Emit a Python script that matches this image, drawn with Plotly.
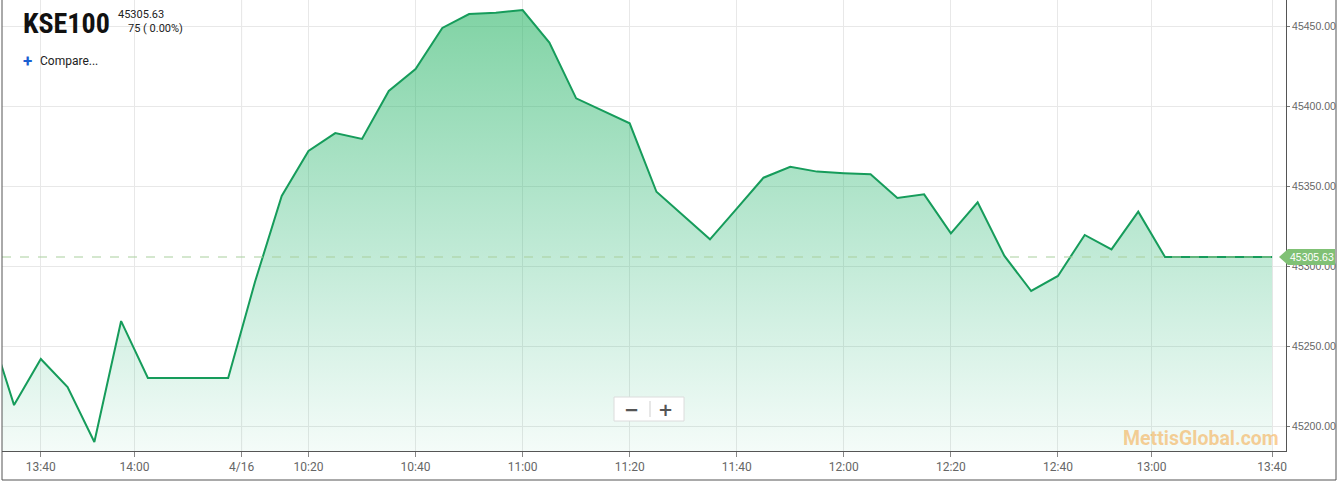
import plotly.graph_objects as go

# ---- data (ordinal time axis: one slot per sample) ----
times = ["13:30", "13:35", "13:40", "13:45", "13:50", "13:55", "14:05", "14:10", "14:15", "14:20",
         "10:10", "10:15", "10:20", "10:25", "10:30", "10:35", "10:40", "10:45", "10:50", "10:55",
         "11:00", "11:05", "11:10", "11:15", "11:20", "11:25", "11:30", "11:35", "11:40", "11:45",
         "11:50", "11:55", "12:00", "12:05", "12:10", "12:15", "12:20", "12:25", "12:30", "12:35",
         "12:40", "12:45", "12:50", "12:55", "13:20", "13:25", "13:30", "13:35", "13:40"]
values = [45266.0, 45213.1, 45241.9, 45224.4, 45190.0, 45265.6, 45230.0, 45230.0, 45230.0, 45230.0,
          45290.0, 45343.8, 45371.9, 45383.1, 45379.4, 45409.4, 45423.1, 45448.8, 45457.5, 45458.3,
          45460.0, 45439.6, 45404.8, 45397.0, 45389.2, 45346.4, 45331.6, 45316.7, 45335.9, 45355.2,
          45362.0, 45359.0, 45358.0, 45357.3, 45342.5, 45344.8, 45320.4, 45339.8, 45306.3, 45284.4,
          45293.8, 45319.4, 45310.4, 45334.0, 45305.63, 45305.63, 45305.63, 45305.63, 45305.63]
tick_labels = ["13:40", "14:00", "4/16", "10:20", "10:40", "11:00", "11:20", "11:40",
               "12:00", "12:20", "12:40", "13:00", "13:40"]
tick_slots = [2, 5.5, 9.5, 12, 16, 20, 24, 28, 32, 36, 40, 43.5, 48]
y_ticks = [45200, 45250, 45300, 45350, 45400, 45450]
last_price = 45305.63
change_text = "75 ( 0.00%)"
symbol = "KSE100"

# ---- geometry ----
W, H = 1337, 481
L, R, T, B = 2, 51, 0, 30
PW, PH = W - L - R, H - T - B
X_RANGE = [0.55, 48.52]
Y_RANGE = [45184.4, 45466.25]

def px(x):  # pixel -> paper x
    return (x - L) / PW

def py(y):  # pixel -> paper y
    return (T + PH - y) / PH

xs = list(range(len(times)))

fig = go.Figure()
fig.add_trace(go.Scatter(x=xs, y=[Y_RANGE[0]] * len(xs), mode="lines",
                         line=dict(width=0, color="rgba(0,0,0,0)"),
                         hoverinfo="skip", showlegend=False))
fig.add_trace(go.Scatter(
    x=xs, y=values, mode="lines", fill="tonexty",
    line=dict(color="#169c5b", width=2),
    fillgradient=dict(type="vertical",
                      colorscale=[[0, "rgba(40,185,125,0.05)"], [1, "rgba(40,180,100,0.6)"]],
                      start=Y_RANGE[0], stop=Y_RANGE[1]),
    hovertext=times, showlegend=False))

shapes = []
# darker day-break line
shapes.append(dict(type="line", xref="x", yref="paper", x0=tick_slots[2], x1=tick_slots[2], y0=0, y1=1,
                   line=dict(color="#c4c4c4", width=1), layer="below"))
# last price dashed line
shapes.append(dict(type="line", xref="paper", yref="y", x0=0, x1=px(1280), y0=last_price, y1=last_price,
                   line=dict(color="#a9cf9d", width=1, dash="dash")))
# price tag
u = 8 / 1.6
shapes.append(dict(type="path", xref="paper", yref="y",
                   path=(f"M {px(1279)},{last_price} L {px(1288)},{last_price + u} "
                         f"L {px(1335)},{last_price + u} L {px(1335)},{last_price - u} "
                         f"L {px(1288)},{last_price - u} Z"),
                   fillcolor="#80c175", line=dict(width=0), layer="above"))
# frame borders
shapes.append(dict(type="line", xref="paper", yref="paper", x0=0, x1=0, y0=py(480), y1=1,
                   line=dict(color="#555", width=1)))
shapes.append(dict(type="line", xref="paper", yref="paper", x0=0, x1=px(1336), y0=py(480), y1=py(480),
                   line=dict(color="#555", width=1)))
shapes.append(dict(type="line", xref="paper", yref="paper", x0=px(1336), x1=px(1336), y0=py(480), y1=1,
                   line=dict(color="#555", width=1)))
# zoom buttons
shapes.append(dict(type="rect", xref="paper", yref="paper", x0=px(614), x1=px(684), y0=py(421), y1=py(397),
                   fillcolor="white", line=dict(color="#dcdcdc", width=1), layer="above"))
shapes.append(dict(type="line", xref="paper", yref="paper", x0=px(650), x1=px(650), y0=py(417), y1=py(401),
                   line=dict(color="#cfcfcf", width=1), layer="above"))

ann = []
ann.append(dict(xref="paper", yref="paper", x=px(21), y=py(23), xanchor="left", yanchor="middle",
                text=f"<b>{symbol}</b>", showarrow=False,
                font=dict(family="Liberation Sans Narrow, Roboto Condensed, DejaVu Sans Condensed, Roboto",
                          size=28, color="#111")))
ann.append(dict(xref="paper", yref="paper", x=px(116), y=py(15), xanchor="left", yanchor="middle",
                text=f"{last_price:.2f}", showarrow=False,
                font=dict(family="Roboto", size=11, color="#222")))
ann.append(dict(xref="paper", yref="paper", x=px(185), y=py(28), xanchor="right", yanchor="middle",
                text=change_text, showarrow=False,
                font=dict(family="Roboto", size=11, color="#222")))
ann.append(dict(xref="paper", yref="paper", x=px(27), y=py(61), xanchor="center", yanchor="middle",
                text="<b>+</b>", showarrow=False,
                font=dict(family="Roboto", size=17, color="#1b5fd1")))
ann.append(dict(xref="paper", yref="paper", x=px(38), y=py(61), xanchor="left", yanchor="middle",
                text="Compare...", showarrow=False,
                font=dict(family="Roboto", size=12, color="#222")))
ann.append(dict(xref="paper", yref="paper", x=px(1281), y=py(438), xanchor="right", yanchor="middle",
                text="<b>MettisGlobal.com</b>", showarrow=False,
                font=dict(family="Roboto", size=19.5, color="rgba(245,160,50,0.5)")))
ann.append(dict(xref="paper", yref="paper", x=px(631), y=py(409), xanchor="center", yanchor="middle",
                text="<b>\u2212</b>", showarrow=False,
                font=dict(family="DejaVu Sans", size=18, color="#555")))
ann.append(dict(xref="paper", yref="paper", x=px(666), y=py(409), xanchor="center", yanchor="middle",
                text="<b>+</b>", showarrow=False,
                font=dict(family="DejaVu Sans", size=18, color="#555")))
ann.append(dict(xref="paper", yref="y", x=px(1312), y=last_price, xanchor="center", yanchor="middle",
                text=f"{last_price:.2f}", showarrow=False,
                font=dict(family="Liberation Sans", size=10.5, color="white")))

fig.update_layout(
    width=W, height=H,
    margin=dict(l=L, r=R, t=T, b=B, autoexpand=False),
    paper_bgcolor="white", plot_bgcolor="white",
    showlegend=False,
    xaxis=dict(range=X_RANGE, tickmode="array", tickvals=tick_slots, ticktext=tick_labels,
               showgrid=True, gridcolor="#e8e8e8", gridwidth=1, zeroline=False,
               showline=True, linecolor="#555", linewidth=1, automargin=False,
               ticks="outside", ticklen=5, tickcolor="#888",
               tickfont=dict(family="Roboto", size=12, color="#666")),
    yaxis=dict(range=Y_RANGE, side="right", tickmode="array", tickvals=y_ticks,
               tickformat=".2f", showgrid=True, gridcolor="#e8e8e8", zeroline=False,
               showline=True, linecolor="#555", linewidth=1, automargin=False,
               ticks="outside", ticklen=3, tickcolor="#777",
               tickfont=dict(family="Liberation Sans", size=10.5, color="#666")),
    shapes=shapes, annotations=ann,
)

fig.write_html("out.html", config={"displayModeBar": False},
               post_script="document.body.style.margin='0';document.body.style.overflow='hidden';")
